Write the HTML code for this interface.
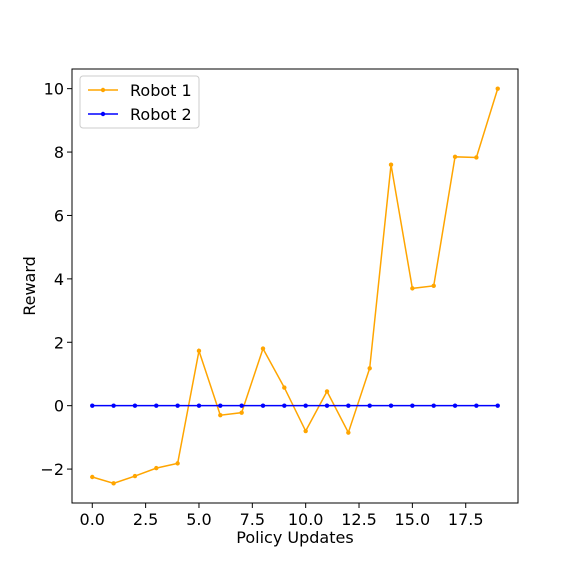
<!DOCTYPE html>
<html><head><meta charset="utf-8"><style>
body{margin:0;background:#fff;}
svg text{font-family:"DejaVu Sans","Liberation Sans",sans-serif;fill:#000;}
</style></head><body>
<svg id="chart" width="576" height="576">
<rect width="576" height="576" fill="#fff"/>
<g id="plot"></g>
</svg>
<script>
const updates=[0,1,2,3,4,5,6,7,8,9,10,11,12,13,14,15,16,17,18,19];
const robot1=[-2.25,-2.45,-2.22,-1.97,-1.82,1.73,-0.3,-0.22,1.8,0.57,-0.8,0.45,-0.85,1.18,7.6,3.7,3.78,7.85,7.83,10.0];
const robot2=[0,0,0,0,0,0,0,0,0,0,0,0,0,0,0,0,0,0,0,0];
const xTicks=[0,2.5,5,7.5,10,12.5,15,17.5];
const xTickLabels=["0.0","2.5","5.0","7.5","10.0","12.5","15.0","17.5"];
const yTicks=[-2,0,2,4,6,8,10];
const yTickLabels=["\u22122","0","2","4","6","8","10"];
const L=72,R=518,T=69,B=503;
const xmin=-0.95,xmax=19.95,ymin=-3.07,ymax=10.62;
const sx=v=>L+(v-xmin)/(xmax-xmin)*(R-L);
const sy=v=>B-(v-ymin)/(ymax-ymin)*(B-T);
const NS="http://www.w3.org/2000/svg";
const g=document.getElementById('plot');
function mk(t,a,p){const e=document.createElementNS(NS,t);for(const k in a)e.setAttribute(k,a[k]);(p||g).appendChild(e);return e;}
function series(vals,color,name){
  const pl=mk('polyline',{points:vals.map((v,i)=>sx(updates[i])+','+sy(v)).join(' '),fill:'none',stroke:color,'stroke-width':1.5});
  
  
  vals.forEach((v,i)=>{const c=mk('circle',{cx:sx(updates[i]),cy:sy(v),r:2.2,fill:color});
    
    });
}
series(robot1,'#ffa500','robot-1');
series(robot2,'#0000ff','robot-2');
const fr=mk('rect',{x:L,y:T,width:R-L,height:B-T,fill:'none',stroke:'#000','stroke-width':1});


xTicks.forEach((v,i)=>{mk('line',{x1:sx(v),x2:sx(v),y1:B,y2:B+5,stroke:'#000'});
  const t=mk('text',{x:sx(v),y:B+22,'text-anchor':'middle','font-size':16});t.textContent=xTickLabels[i];
  
  });
yTicks.forEach((v,i)=>{mk('line',{x1:L-5,x2:L,y1:sy(v),y2:sy(v),stroke:'#000'});
  const t=mk('text',{x:L-8,y:sy(v)+6,'text-anchor':'end','font-size':16});t.textContent=yTickLabels[i];
  
  });
const xl=mk('text',{x:(L+R)/2,y:543,'text-anchor':'middle','font-size':16});xl.textContent='Policy Updates';


const yl=mk('text',{x:0,y:0,'text-anchor':'middle','font-size':16,transform:'translate(35,'+((T+B)/2)+') rotate(-90)'});yl.textContent='Reward';


const lg=mk('g',{});


mk('rect',{x:80,y:76,width:119,height:52,rx:3,fill:'#fff',stroke:'#ccc'},lg);
[['Robot 1','#ffa500',90],['Robot 2','#0000ff',114]].forEach(([n,c,y])=>{
  mk('line',{x1:88,x2:118,y1:y,y2:y,stroke:c,'stroke-width':1.5},lg);
  mk('circle',{cx:103,cy:y,r:2.2,fill:c},lg);
  const t=mk('text',{x:130,y:y+6,'font-size':16},lg);t.textContent=n;
  
  
});
</script>
</body></html>
